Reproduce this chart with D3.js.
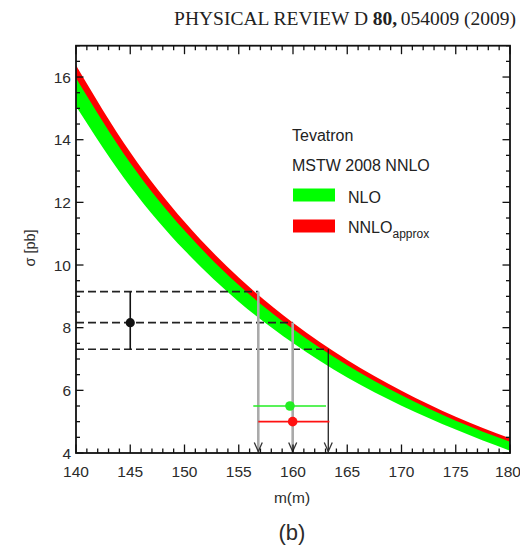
<!DOCTYPE html>
<html><head><meta charset="utf-8">
<script src="https://cdn.jsdelivr.net/npm/d3@7"></script>
<style>body{margin:0;background:#fff}svg{display:block}</style>
</head><body>
<script>
// ---- data ----
const mass    = [140, 145, 150, 155, 160, 165, 170, 175, 180];
const nnloHi  = [16.38, 13.60, 11.38, 9.60, 8.16, 6.97, 5.99, 5.16, 4.47];
const nnloLo  = [15.97, 13.26, 11.10, 9.36, 7.96, 6.80, 5.84, 5.03, 4.36];
const nloHi   = [16.05, 13.33, 11.15, 9.41, 8.00, 6.83, 5.87, 5.06, 4.38];
const nloLo   = [15.07, 12.51, 10.47, 8.83, 7.51, 6.41, 5.51, 4.75, 4.07];

const sigmaLevels = [9.15, 8.16, 7.31];       // measured sigma: hi, central, lo
const massCross   = [156.8, 159.97, 163.25];  // where the levels meet the curve
const expMass = 145;

const extractedLabels = ["NLO", "NNLO"];
const extractedMass   = [159.72, 159.97];
const extractedSigma  = [5.5, 5.0];
const extractedLo     = [156.34, 156.8];
const extractedHi     = [163.04, 163.35];

const xTicks = [140, 145, 150, 155, 160, 165, 170, 175, 180];
const yTicks = [4, 6, 8, 10, 12, 14, 16];

// ---- drawing ----
const W = 520, H = 548;
const svg = d3.select("body").append("svg").attr("width", W).attr("height", H);
const x = d3.scaleLinear().domain([140, 180]).range([76, 510]);
const y = d3.scaleLinear().domain([4, 17]).range([453, 45.7]);
const ink = "#2b2b2b";

const serif = "Liberation Serif, Times New Roman, serif";
const hdr = svg.append("g").attr("font-family", serif).attr("font-size", 19.5).attr("fill", "#222");
hdr.append("text").attr("x", 516).attr("y", 25).attr("text-anchor", "end").text("054009 (2009)");
hdr.append("text").attr("x", 397).attr("y", 25).attr("text-anchor", "end").attr("font-weight", "bold").text("80,");
hdr.append("text").attr("x", 368).attr("y", 25).attr("text-anchor", "end").text("PHYSICAL REVIEW D");

svg.append("clipPath").attr("id", "clip").append("rect")
  .attr("x", x(140)).attr("y", y(17)).attr("width", x(180) - x(140)).attr("height", y(4) - y(17));

const g = svg.append("g").attr("clip-path", "url(#clip)");
const rows = mass.map((m, i) => ({m, a: nloLo[i], b: nloHi[i], c: nnloLo[i], d: nnloHi[i]}));
const curve = d3.curveMonotoneX;
g.append("path").datum(rows).attr("fill", "#00ff00")
  .attr("d", d3.area().curve(curve).x(d => x(d.m)).y0(d => y(d.a)).y1(d => y(d.b)));
g.append("path").datum(rows).attr("fill", "#ff0000")
  .attr("d", d3.area().curve(curve).x(d => x(d.m)).y0(d => y(d.c)).y1(d => y(d.d)));

// dashed levels
sigmaLevels.forEach((s, i) => {
  svg.append("line").attr("x1", x(140)).attr("x2", x(massCross[i]))
    .attr("y1", y(s)).attr("y2", y(s)).attr("stroke", "#222").attr("stroke-width", 1.6)
    .attr("stroke-dasharray", "8,4");
});
// vertical arrows
massCross.forEach((m, i) => {
  const grey = i < 2;
  svg.append("line").attr("x1", x(m)).attr("x2", x(m)).attr("y1", y(sigmaLevels[i])).attr("y2", y(4) - 1)
    .attr("stroke", grey ? "#aaaaaa" : "#111").attr("stroke-width", grey ? 2.6 : 1.2);
  const tipY = y(4) - 1.5;
  svg.append("path").attr("d", `M${x(m) - 4},${tipY - 9}L${x(m)},${tipY}L${x(m) + 4},${tipY - 9}`)
    .attr("fill", "none").attr("stroke", "#333").attr("stroke-width", 1.3);
});

// experimental point
svg.append("line").attr("x1", x(expMass)).attr("x2", x(expMass))
  .attr("y1", y(sigmaLevels[2])).attr("y2", y(sigmaLevels[0])).attr("stroke", "#111").attr("stroke-width", 1.6);
svg.append("circle").attr("cx", x(expMass)).attr("cy", y(sigmaLevels[1])).attr("r", 4.6).attr("fill", "#111");

// extracted masses
const exCol = ["#22ee22", "#ff1111"];
extractedMass.forEach((m, i) => {
  svg.append("line").attr("x1", x(extractedLo[i])).attr("x2", x(extractedHi[i]))
    .attr("y1", y(extractedSigma[i])).attr("y2", y(extractedSigma[i]))
    .attr("stroke", exCol[i]).attr("stroke-width", 1.6);
  svg.append("circle").attr("cx", x(m)).attr("cy", y(extractedSigma[i])).attr("r", 4.8).attr("fill", exCol[i]);
});

// frame and ticks
const fr = svg.append("g").attr("stroke", "#111").attr("fill", "none");
fr.append("rect").attr("x", x(140)).attr("y", y(17)).attr("width", x(180) - x(140))
  .attr("height", y(4) - y(17)).attr("stroke-width", 1.8);
d3.range(140, 180.01, 1).forEach(v => {
  const L = v % 5 === 0 ? 8.5 : 4.5;
  fr.append("line").attr("x1", x(v)).attr("x2", x(v)).attr("y1", y(4)).attr("y2", y(4) - L).attr("stroke-width", 1.3);
  fr.append("line").attr("x1", x(v)).attr("x2", x(v)).attr("y1", y(17)).attr("y2", y(17) + L).attr("stroke-width", 1.3);
});
d3.range(4, 17.01, 0.5).forEach(v => {
  const L = (v % 2 === 0) ? 7.5 : 4;
  fr.append("line").attr("x1", x(140)).attr("x2", x(140) + L).attr("y1", y(v)).attr("y2", y(v)).attr("stroke-width", 1.3);
  fr.append("line").attr("x1", x(180)).attr("x2", x(180) - L).attr("y1", y(v)).attr("y2", y(v)).attr("stroke-width", 1.3);
});

const font = "Liberation Sans, Arial, Helvetica, sans-serif";
xTicks.forEach(v => svg.append("text").attr("x", x(v) - (v === 180 ? 2 : 0)).attr("y", 477).attr("text-anchor", "middle")
  .attr("font-family", font).attr("font-size", 15.5).attr("fill", ink).text(v));
yTicks.forEach(v => svg.append("text").attr("x", 71).attr("y", y(v) + 5.5).attr("text-anchor", "end")
  .attr("font-family", font).attr("font-size", 15.5).attr("fill", ink).text(v));

svg.append("text").attr("x", 292).attr("y", 503).attr("text-anchor", "middle")
  .attr("font-family", font).attr("font-size", 15.5).attr("fill", ink).text("m(m)");
svg.append("text").attr("x", 292).attr("y", 540).attr("text-anchor", "middle")
  .attr("font-family", font).attr("font-size", 22).attr("fill", ink).text("(b)");
svg.append("text").attr("transform", "translate(35,248) rotate(-90)").attr("text-anchor", "middle")
  .attr("font-family", font).attr("font-size", 14.5).attr("fill", ink).text("σ [pb]");

// legend
const lg = svg.append("g").attr("font-family", font).attr("font-size", 16).attr("fill", "#222");
lg.append("text").attr("x", 292).attr("y", 141).text("Tevatron");
lg.append("text").attr("x", 292).attr("y", 171).text("MSTW 2008 NNLO");
lg.append("rect").attr("x", 293).attr("y", 188.5).attr("width", 42).attr("height", 13).attr("fill", "#00ff00");
lg.append("rect").attr("x", 293).attr("y", 219.5).attr("width", 42).attr("height", 13).attr("fill", "#ff0000");
lg.append("text").attr("x", 348).attr("y", 203).text("NLO");
lg.append("text").attr("x", 348).attr("y", 233).html('NNLO<tspan font-size="12" dy="5">approx</tspan>');
</script>
</body></html>
